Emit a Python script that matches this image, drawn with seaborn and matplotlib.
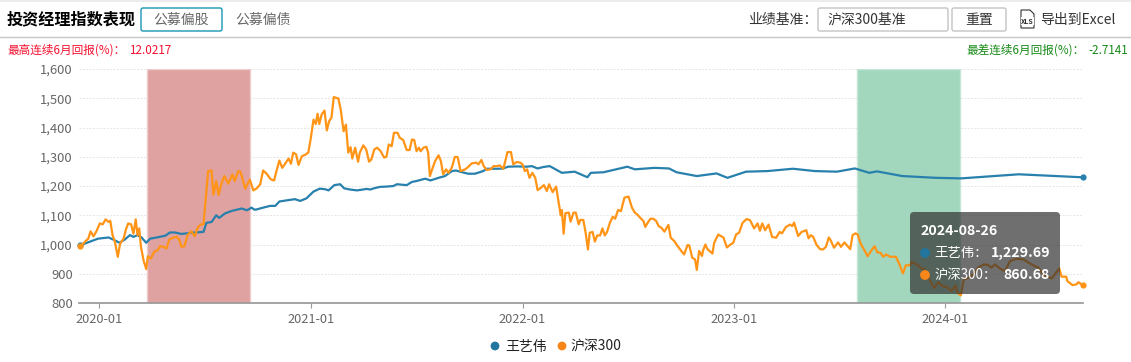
# -*- coding: utf-8 -*-
"""Fund manager index chart: manager vs CSI 300, with best/worst 6M bands."""
import matplotlib
matplotlib.use("Agg")
import matplotlib.dates as mdates
import matplotlib.pyplot as plt
import pandas as pd
import seaborn as sns
from matplotlib.patches import FancyBboxPatch, Polygon, Rectangle
from matplotlib.ticker import FuncFormatter

START_DATE = "2019-11-27"
END_DATE = "2024-08-26"
BEST_PERIOD = ("2020-03-23", "2020-09-17")
WORST_PERIOD = ("2023-08-02", "2024-01-26")
Y_TICKS = [800, 900, 1000, 1100, 1200, 1300, 1400, 1500, 1600]
X_TICKS = ["2020-01-01", "2021-01-01", "2022-01-01", "2023-01-01", "2024-01-01"]
SERIES_NAMES = ["王艺伟", "沪深300"]
TOOLTIP_DATE = "2024-08-26"
TOOLTIP_VALUES = ["1,229.69", "860.68"]

# days since START_DATE
hs300_days = [
    1, 5, 10, 16, 20, 25, 30, 36, 41, 46, 51, 54, 58, 62, 67, 71, 77, 81, 85, 90,
    94, 98, 101, 104, 107, 112, 114, 116, 119, 124, 130, 136, 140, 146, 151, 156,
    163, 169, 173, 177, 182, 188, 194, 200, 205, 211, 215, 219, 223, 229, 232, 237,
    241, 246, 251, 258, 265, 269, 275, 279, 287, 295,
    301, 307, 313, 318, 324, 331, 337, 341, 346, 351, 356, 362, 366, 370, 375, 379,
    385, 390, 396, 400, 405, 409, 412, 415, 419, 424, 428, 432, 436, 440, 448, 452,
    457, 461, 465, 469, 472, 477, 482, 485, 491, 496, 501, 505, 510, 515,
    521, 527, 531, 535, 540, 544, 550, 554, 560, 566, 571, 575, 579, 583, 587, 590,
    595, 600, 603, 606, 611, 615, 621, 625, 629, 634, 638, 644, 649, 654, 659, 667,
    672, 678, 686, 690, 695, 699, 704, 711, 716, 721, 727, 733, 740, 746, 750, 756,
    762, 766, 770, 774, 778, 783, 788, 792, 796, 803, 808, 812,
    818, 824, 828, 832, 834, 837, 840, 846, 849, 854, 858, 863, 866, 871, 875, 879,
    882, 887, 891, 895, 900, 904, 908, 912, 917, 922, 926, 931, 936, 942, 949, 955,
    960, 964, 969, 975, 978, 983, 987, 992, 997, 1001, 1006, 1011, 1018, 1022, 1028,
    1033, 1039, 1045, 1051, 1054, 1059, 1064, 1067, 1071, 1076, 1078, 1082, 1085, 1089,
    1094, 1097, 1104, 1113, 1119, 1124, 1130, 1135, 1140, 1146, 1153, 1159, 1166,
    1172, 1176, 1180, 1185, 1191, 1197, 1204, 1210, 1214, 1221, 1228, 1232, 1235,
    1242, 1248, 1256, 1260, 1264, 1268, 1274, 1280, 1285, 1290, 1295, 1298, 1304,
    1311, 1316, 1322, 1332, 1336, 1341, 1345, 1350, 1355, 1362, 1369, 1374, 1379,
    1384, 1389, 1394, 1401, 1411, 1417, 1423, 1428, 1435, 1438, 1447, 1455, 1461,
    1470, 1477, 1484, 1493, 1498, 1507, 1514, 1517, 1523, 1528, 1536, 1545, 1553,
    1563, 1570, 1576, 1582, 1591, 1599, 1608, 1619, 1631, 1640, 1648, 1657, 1665,
    1680, 1693, 1697, 1705, 1707, 1716, 1723, 1726, 1734,
]
hs300_values = [
    994, 998, 1009, 1020, 1045, 1028, 1045, 1072, 1069, 1086, 1077, 1081, 1032, 1009, 958, 1003, 1020, 1051, 1072, 1069,
    1037, 1086, 1032, 1055, 992, 941, 930, 916, 960, 952, 975, 981, 994, 992, 986, 1017,
    1024, 1026, 1017, 992, 994, 1034, 1045, 1028, 1058, 1069, 1069, 1162, 1251, 1253, 1170, 1217,
    1169, 1208, 1234, 1208, 1240, 1217, 1251, 1248, 1191, 1222,
    1185, 1192, 1206, 1253, 1242, 1223, 1219, 1251, 1287, 1262, 1276, 1294, 1276, 1314, 1308, 1272,
    1302, 1306, 1314, 1359, 1427, 1412, 1447, 1412, 1444, 1458, 1390, 1422, 1433, 1504, 1499, 1461,
    1387, 1410, 1314, 1333, 1294, 1331, 1283, 1314, 1339, 1325, 1283, 1291, 1325, 1331,
    1319, 1297, 1300, 1342, 1336, 1382, 1382, 1365, 1357, 1323, 1323, 1359, 1357, 1319, 1331, 1319,
    1331, 1334, 1314, 1234, 1263, 1285, 1305, 1285, 1240, 1257, 1245, 1263, 1299, 1299, 1251, 1257,
    1265, 1277, 1280, 1274, 1289, 1268, 1255, 1257, 1268, 1268, 1270, 1259, 1316, 1316, 1274, 1282,
    1280, 1274, 1251, 1257, 1228, 1245, 1228, 1186, 1191, 1203, 1183, 1206,
    1179, 1198, 1149, 1100, 1118, 1037, 1107, 1109, 1078, 1109, 1109, 1069, 1084, 1084, 1040, 983,
    1040, 1043, 1010, 1031, 1031, 1055, 1031, 1043, 1075, 1095, 1088, 1118, 1114, 1160, 1164, 1126,
    1109, 1103, 1092, 1080, 1060, 1077, 1088, 1088, 1080, 1063, 1057, 1044, 1067, 1023, 1012,
    997, 981, 966, 998, 997, 955, 949, 913, 978, 961, 981, 1000, 985, 978,
    969, 1006, 1034, 1024, 990, 998, 1006, 1035, 1040, 1074, 1087, 1083, 1055,
    1072, 1047, 1072, 1049, 1068, 1026, 1023, 1043, 1038, 1060, 1068, 1063, 1075,
    1029, 1043, 1049, 1021, 1032, 1026, 998, 984, 983, 992, 1024, 1015, 989,
    1007, 992, 1007, 984, 1032, 1038, 1034, 1003, 986, 960, 981, 994, 973,
    972, 958, 966, 958, 958, 932, 901, 929, 929, 940, 932, 918, 915,
    875, 852, 871, 856, 856, 841, 860, 835, 826, 881, 886, 898, 921,
    932, 930, 921, 932, 917, 909, 943, 951, 949, 938, 929, 921, 898,
    884, 918, 890, 890, 875, 861, 864, 871, 860.68,
]
manager_days = [
    1, 10, 22, 33, 51, 59, 70, 79, 88, 94, 101, 108, 116, 123, 134, 149, 157, 166,
    177, 194, 215, 220, 229, 237, 242, 252, 264, 281, 290, 298, 303,
    307, 318, 330, 339, 346, 359, 373, 382, 393, 405, 416, 425, 431, 441, 451, 458,
    468, 480, 497, 503, 511, 520, 531, 543, 549, 566, 575, 583, 598, 607, 621, 632,
    644, 651, 658, 672, 684, 698, 704, 724, 733, 741, 756, 773, 782, 792, 802, 813,
    834, 856, 878, 884, 906, 947, 960, 994, 1019, 1032, 1067, 1101, 1120, 1152, 1189,
    1233, 1271, 1309, 1340, 1365, 1378, 1422, 1479, 1523, 1623, 1734,
]
manager_values = [
    998, 1003, 1012, 1020, 1024, 1017, 1006, 1017, 1032, 1026, 1032, 1024, 1006, 1020, 1024, 1030, 1041, 1041,
    1036, 1040, 1043, 1074, 1077, 1100, 1091, 1106, 1115, 1123, 1117, 1126, 1119,
    1120, 1126, 1132, 1132, 1147, 1151, 1155, 1149, 1158, 1181, 1191, 1189, 1185, 1203, 1206, 1192,
    1188, 1185, 1190, 1188, 1193, 1197, 1198, 1200, 1206, 1203, 1214, 1217, 1225, 1219, 1228, 1234,
    1251, 1253, 1249, 1242, 1242, 1251, 1259, 1259, 1260, 1266, 1267, 1266, 1268, 1260, 1265, 1268,
    1245, 1249, 1230, 1245, 1247, 1266, 1257, 1262, 1260, 1247, 1234, 1243, 1228, 1249, 1251,
    1259, 1251, 1249, 1260, 1245, 1250, 1234, 1228, 1226, 1240, 1229.69,
]

BLUE = "#2880ad"
ORANGE = "#ff9416"
GREY_TEXT = "#666666"


def make_frame(days, values):
    dates = pd.Timestamp(START_DATE) + pd.to_timedelta(days, unit="D")
    return pd.DataFrame({"date": dates, "value": values})


def draw_chart(fig):
    ax = fig.add_axes([79 / 1131, 59 / 362, 1004 / 1131, 234 / 362])
    ax.axvspan(pd.Timestamp(BEST_PERIOD[0]), pd.Timestamp(BEST_PERIOD[1]),
               facecolor="#e0a1a1", edgecolor="#edcccc", lw=1, zorder=1)
    ax.axvspan(pd.Timestamp(WORST_PERIOD[0]), pd.Timestamp(WORST_PERIOD[1]),
               facecolor="#a2d7bd", edgecolor="#c4e6d6", lw=1, zorder=1)

    for days, values, color in [(manager_days, manager_values, BLUE),
                                (hs300_days, hs300_values, ORANGE)]:
        sns.lineplot(data=make_frame(days, values), x="date", y="value", ax=ax,
                     color=color, lw=1.6, marker="o", markersize=4.5,
                     markeredgewidth=0, markevery=[0, len(days) - 1],
                     errorbar=None, zorder=3, clip_on=False)

    ax.set_xlim(pd.Timestamp(START_DATE), pd.Timestamp(END_DATE))
    ax.set_ylim(800, 1600)
    ax.set_yticks(Y_TICKS)
    ax.yaxis.set_major_formatter(FuncFormatter(lambda v, _: f"{v:,.0f}"))
    ax.set_xticks(pd.to_datetime(X_TICKS))
    ax.xaxis.set_major_formatter(mdates.DateFormatter("%Y-%m"))
    ax.set_xlabel("")
    ax.set_ylabel("")
    ax.grid(axis="y", color="#e6e6e6", lw=0.7, ls=(0, (2, 1.5)))
    ax.set_axisbelow(True)
    ax.tick_params(axis="y", length=0, pad=4.5, labelsize=9.4, labelcolor=GREY_TEXT)
    ax.tick_params(axis="x", length=3.5, width=0.8, color="#999999", pad=4,
                   labelsize=9.2, labelcolor=GREY_TEXT, bottom=True)
    sns.despine(ax=ax, left=True)
    ax.spines["bottom"].set_color("#999999")
    return ax


def draw_chrome(fig):
    # overlay in pixel coordinates for the page furniture around the chart
    ov = fig.add_axes([0, 0, 1, 1], zorder=10)
    ov.set_xlim(0, 1131)
    ov.set_ylim(362, 0)
    ov.axis("off")
    ov.patch.set_alpha(0)

    ov.add_patch(Rectangle((0, 0), 1131, 1.5, fc="#ececec", ec="none"))
    ov.plot([0, 1131], [36.5, 36.5], color="#c6c6c6", lw=1)
    ov.text(7, 19, "投资经理指数表现", fontsize=11.6, fontweight="bold", color="black", va="center")

    def box(x0, x1, edge):
        ov.add_patch(FancyBboxPatch((x0, 8), x1 - x0, 23, boxstyle="round,pad=0,rounding_size=2",
                                    fc="white", ec=edge, lw=1))

    box(141, 222, "#1a96b4")
    ov.text(181, 20, "公募偏股", fontsize=10, color=GREY_TEXT, ha="center", va="center")
    ov.text(263, 20, "公募偏债", fontsize=10, color=GREY_TEXT, ha="center", va="center")
    ov.text(748, 20, "业绩基准：", fontsize=10, color="#333333", va="center")
    box(818, 948, "#c4c4c4")
    ov.text(827, 20, "沪深300基准", fontsize=10, color="#333333", va="center")
    box(952, 1006, "#c4c4c4")
    ov.text(979, 20, "重置", fontsize=10, color="#333333", ha="center", va="center")

    ov.add_patch(Polygon([(1021, 10), (1030, 10), (1034, 14), (1034, 28), (1021, 28)],
                         closed=True, fc="white", ec="#333333", lw=0.8))
    ov.text(1027.5, 21, "XLS", fontsize=5, fontweight="bold", color="#333333",
            ha="center", va="center", bbox=dict(fc="white", ec="none", pad=0.3))
    ov.text(1040, 20, "导出到Excel", fontsize=10, color="#333333", va="center")

    ov.text(7, 50, "最高连续6月回报(%)：", fontsize=8.4, color="#f5102f", va="center")
    ov.text(129, 50, "12.0217", fontsize=8.4, color="#f5102f", va="center")
    ov.text(966, 50, "最差连续6月回报(%)：", fontsize=8.4, color="#168a16", va="center")
    ov.text(1128, 50, "-2.7141", fontsize=8.4, color="#168a16", ha="right", va="center")

    # legend
    ov.scatter([495, 562], [346, 346], s=40, color=["#21759f", "#f7861b"], linewidths=0)
    ov.text(505, 347, SERIES_NAMES[0], fontsize=10, color="#222222", va="center")
    ov.text(570, 347, SERIES_NAMES[1], fontsize=10, color="#222222", va="center")

    # tooltip
    ov.add_patch(FancyBboxPatch((910, 212), 150, 82, boxstyle="round,pad=0,rounding_size=4",
                                fc="#323232", ec="none", alpha=0.7))
    ov.text(920, 231, TOOLTIP_DATE, fontsize=10.2, fontweight="bold", color="white", va="center")
    ov.scatter([925, 925], [253, 275], s=50, color=["#21759f", "#f7861b"], linewidths=0, zorder=5)
    ov.text(934, 253, SERIES_NAMES[0] + "：", fontsize=9.6, color="white", va="center")
    ov.text(934, 275, SERIES_NAMES[1] + "：", fontsize=9.6, color="white", va="center")
    ov.text(1050, 253, TOOLTIP_VALUES[0], fontsize=10.2, fontweight="bold", color="white", ha="right", va="center")
    ov.text(1050, 275, TOOLTIP_VALUES[1], fontsize=10.2, fontweight="bold", color="white", ha="right", va="center")


def main():
    sns.set_theme(style="white")
    plt.rcParams["font.family"] = ["Noto Sans CJK SC", "DejaVu Sans"]
    fig = plt.figure(figsize=(11.31, 3.62), dpi=100, facecolor="white")
    draw_chart(fig)
    draw_chrome(fig)
    fig.savefig("out.png", dpi=100, facecolor="white")


if __name__ == "__main__":
    main()
